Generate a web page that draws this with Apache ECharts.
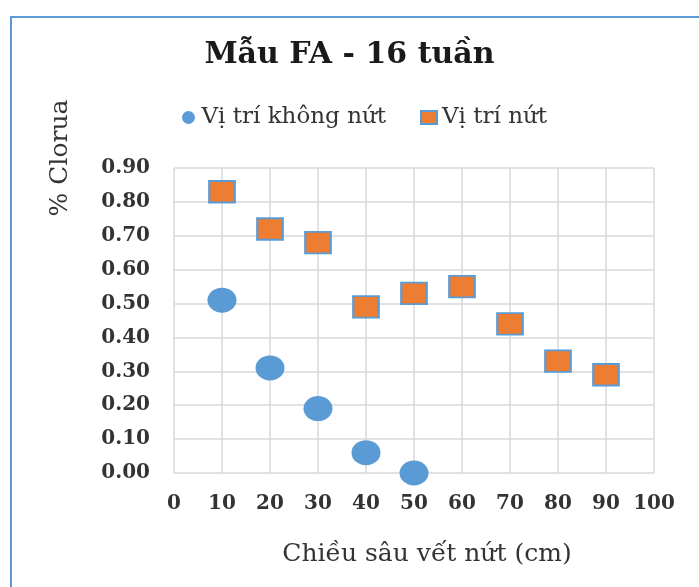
<!DOCTYPE html>
<html>
<head>
<meta charset="utf-8">
<script src="https://cdn.jsdelivr.net/npm/echarts@6/dist/echarts.min.js"></script>
<style>
  html, body { margin: 0; padding: 0; background: #ffffff; }
  #chart { width: 699px; height: 587px; }
</style>
</head>
<body>
<div id="chart"></div>
<script>
// Crack depth (cm) along the x axis
const depths = [10, 20, 30, 40, 50, 60, 70, 80, 90];
// Chloride content (%) away from the crack, measured to 50 cm
const uncracked = [0.51, 0.31, 0.19, 0.06, 0.00];
// Chloride content (%) at the crack
const cracked = [0.83, 0.72, 0.68, 0.49, 0.53, 0.55, 0.44, 0.33, 0.29];
const seriesNames = ['Vị trí không nứt', 'Vị trí nứt'];
const chartTitle = 'Mẫu FA - 16 tuần';
const xAxisName = 'Chiều sâu vết nứt (cm)';
const yAxisName = '% Clorua';

const FONT = '"DejaVu Serif", "Liberation Serif", serif';
const BLUE = '#5b9bd5';
const ORANGE = '#ed7d31';
const GRID = '#d9d9d9';
const TEXT = '#333333';
// Round marker drawn as a path so it stretches to the given width/height
const ELLIPSE = 'path://M0,50A50,50,0,1,1,100,50A50,50,0,1,1,0,50Z';

const pairs = (xs, ys) => ys.map((v, i) => [xs[i], v]);

const chart = echarts.init(document.getElementById('chart'), null, { renderer: 'canvas' });

chart.setOption({
  animation: false,
  backgroundColor: '#ffffff',
  title: {
    text: chartTitle,
    left: 'center',
    top: 40,
    padding: [0, 0, 0, 22],
    textStyle: {
      fontFamily: FONT,
      fontSize: 30,
      fontWeight: 'bold',
      color: '#1a1a1a',
      lineHeight: 30
    }
  },
  legend: {
    left: 182,
    top: 106,
    padding: 0,
    itemGap: 34,
    itemWidth: 16,
    itemHeight: 13,
    selectedMode: false,
    textStyle: { fontFamily: FONT, fontSize: 23, color: TEXT, lineHeight: 23 },
    data: [
      { name: seriesNames[0], icon: ELLIPSE },
      { name: seriesNames[1], icon: 'rect' }
    ]
  },
  grid: { left: 174, right: 45, top: 168, bottom: 114, containLabel: false },
  xAxis: {
    type: 'value',
    min: 0,
    max: 100,
    interval: 10,
    name: xAxisName,
    nameLocation: 'middle',
    nameGap: 69,
    nameTextStyle: {
      fontFamily: FONT, fontSize: 25, color: TEXT, lineHeight: 25,
      padding: [0, 0, 0, 26]
    },
    axisLine: { show: false },
    axisTick: { show: false },
    axisLabel: {
      margin: 21,
      fontFamily: FONT, fontSize: 20, fontWeight: 'bold', color: TEXT, lineHeight: 20
    },
    splitLine: { show: true, lineStyle: { color: GRID, width: 1.5 } }
  },
  yAxis: {
    type: 'value',
    min: 0,
    max: 0.9,
    interval: 0.1,
    axisLine: { show: false },
    axisTick: { show: false },
    axisLabel: {
      margin: 24,
      fontFamily: FONT, fontSize: 20, fontWeight: 'bold', color: TEXT,
      formatter: v => v.toFixed(2)
    },
    splitLine: { show: true, lineStyle: { color: GRID, width: 1.5 } }
  },
  graphic: [
    {
      type: 'line', silent: true,
      shape: { x1: 11, y1: 17, x2: 11, y2: 587 },
      style: { stroke: BLUE, lineWidth: 2 }
    },
    {
      type: 'line', silent: true,
      shape: { x1: 10, y1: 17, x2: 699, y2: 17 },
      style: { stroke: BLUE, lineWidth: 2 }
    },
    {
      type: 'text', silent: true,
      x: 60, y: 158, rotation: Math.PI / 2,
      style: {
        text: yAxisName, align: 'center', verticalAlign: 'middle',
        font: '25px ' + FONT, fill: TEXT
      }
    }
  ],
  series: [
    {
      name: seriesNames[0],
      type: 'scatter',
      clip: false,
      symbol: ELLIPSE,
      symbolSize: [29, 25],
      itemStyle: { color: BLUE, opacity: 1 },
      emphasis: { disabled: true },
      data: pairs(depths, uncracked)
    },
    {
      name: seriesNames[1],
      type: 'scatter',
      clip: false,
      symbol: 'rect',
      symbolSize: [25.5, 21.5],
      itemStyle: { color: ORANGE, borderColor: BLUE, borderWidth: 2, opacity: 1 },
      emphasis: { disabled: true },
      data: pairs(depths, cracked)
    }
  ]
});
</script>
</body>
</html>
